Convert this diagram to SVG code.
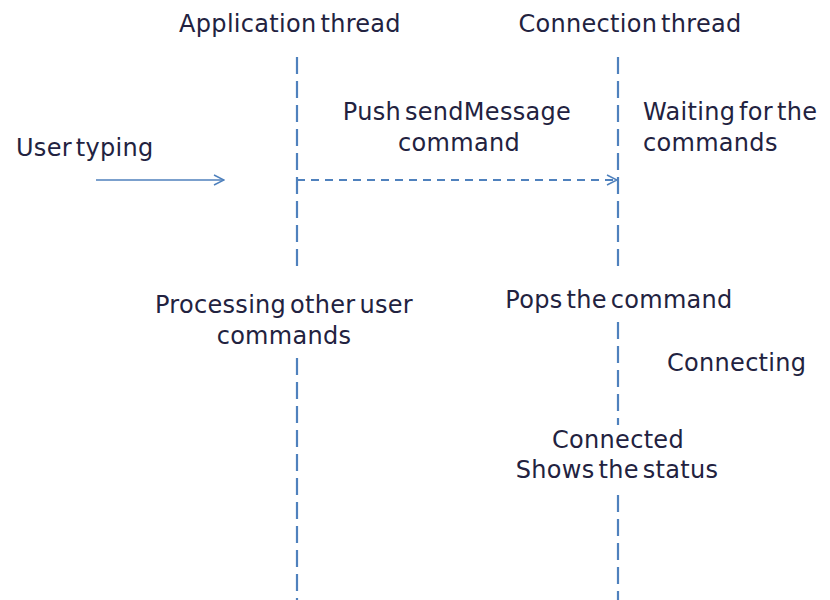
<svg xmlns="http://www.w3.org/2000/svg" width="830" height="600" viewBox="0 0 830 600">
  <style>
    .lbl { font-family: "DejaVu Sans", "Open Sans", sans-serif; font-size: 24px; letter-spacing: 0.3px; fill: #222240; word-spacing: -4px; }
    .mid { text-anchor: middle; }
    .life { stroke: #4f81bd; stroke-width: 2.2; stroke-dasharray: 17 7; fill: none; }
    .msg { stroke: #4f81bd; stroke-width: 1.5; fill: none; }
    .dashed { stroke-width: 2; stroke-dasharray: 8 6; }
  </style>
  <defs>
    <marker id="open" viewBox="0 0 12 12" refX="11" refY="6" markerWidth="12" markerHeight="12" markerUnits="userSpaceOnUse" orient="auto">
      <path d="M1,1 L11,6 L1,11" fill="none" stroke="#4f81bd" stroke-width="1.5"/>
    </marker>
  </defs>
  <rect width="830" height="600" fill="#ffffff"/>

  <!-- participants -->
  <g id="application-thread">
    <text class="lbl mid" x="290" y="32">Application thread</text>
    <path class="life" d="M297,57 V272 M297,358 V600"/>
  </g>
  <g id="connection-thread">
    <text class="lbl mid" x="630" y="32">Connection thread</text>
    <path class="life" d="M618,57 V272 M618,322 V425 M618,495 V600"/>
  </g>

  <!-- activity notes -->
  <g id="user-typing">
    <text class="lbl" x="16" y="156">User typing</text>
  </g>
  <g id="push-command">
    <text class="lbl mid" x="457" y="120">Push sendMessage</text>
    <text class="lbl mid" x="459" y="151">command</text>
  </g>
  <g id="waiting">
    <text class="lbl" x="643" y="120">Waiting for the</text>
    <text class="lbl" x="643" y="151">commands</text>
  </g>
  <g id="processing">
    <text class="lbl mid" x="284" y="313">Processing other user</text>
    <text class="lbl mid" x="284" y="344">commands</text>
  </g>
  <g id="pops">
    <text class="lbl mid" x="619" y="308">Pops the command</text>
  </g>
  <g id="connecting">
    <text class="lbl" x="667" y="371">Connecting</text>
  </g>
  <g id="connected">
    <text class="lbl mid" x="618" y="448">Connected</text>
    <text class="lbl mid" x="617" y="478">Shows the status</text>
  </g>

  <!-- messages -->
  <g id="connectors">
    <path class="msg" d="M96,180 H224" marker-end="url(#open)"/>
    <path class="msg dashed" d="M297,180 H617" marker-end="url(#open)"/>
  </g>
</svg>
